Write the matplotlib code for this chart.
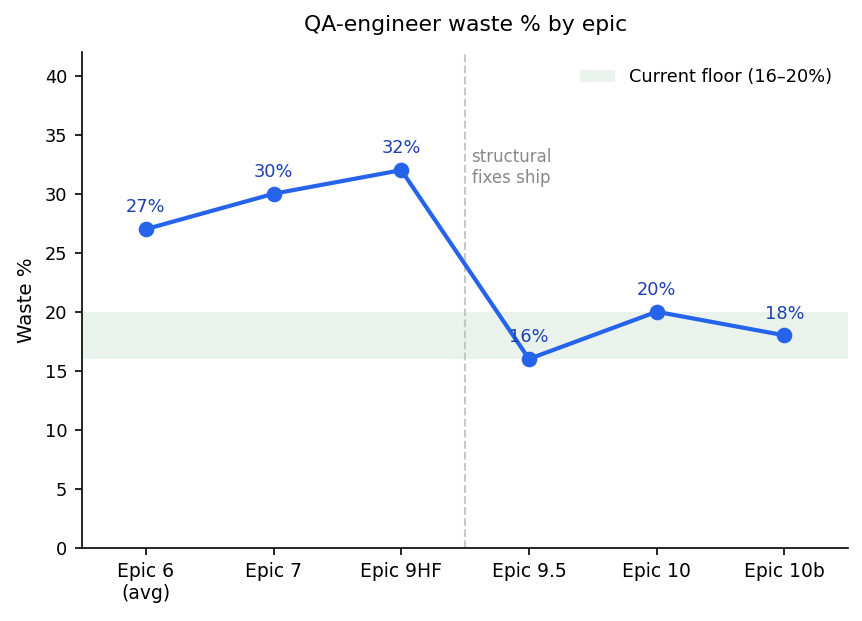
import matplotlib
matplotlib.use("Agg")
import matplotlib.pyplot as plt

epics = ["Epic 6\n(avg)", "Epic 7", "Epic 9HF", "Epic 9.5", "Epic 10", "Epic 10b"]
waste = [27, 30, 32, 16, 20, 18]
floor_lo, floor_hi = 16, 20

fig, ax = plt.subplots(figsize=(5.753, 4.14), dpi=150)
fig.subplots_adjust(left=0.095, right=0.983, top=0.916, bottom=0.118)

x = list(range(len(epics)))
ax.axhspan(floor_lo, floor_hi, color="#2e8b3e", alpha=0.1, lw=0,
           label="Current floor (16\u201320%)")
ax.axvline(2.5, color="#bbbbbb", ls="--", lw=1, alpha=0.8)
ax.text(2.55, 33.9, "structural\nfixes ship", fontsize=8, color="#888888",
        va="top", ha="left")

ax.plot(x, waste, color="#2563eb", lw=2, marker="o", ms=6.5, zorder=3)
for xi, v in zip(x, waste):
    ax.annotate(f"{v}%", (xi, v), textcoords="offset points", xytext=(0, 8),
                ha="center", fontsize=8.5, color="#1e40af")

ax.set_xticks(x)
ax.set_xticklabels(epics, fontsize=9)
ax.tick_params(axis="y", labelsize=8.5)
ax.set_xlim(-0.5, 5.5)
ax.set_ylim(0, 42)
ax.set_ylabel("Waste %", fontsize=9.5)
ax.set_title("QA-engineer waste % by epic", fontsize=10.5, pad=10)
ax.spines["top"].set_visible(False)
ax.spines["right"].set_visible(False)
ax.legend(loc="upper right", frameon=False, fontsize=8.5)

fig.savefig("out.png", dpi=150)
